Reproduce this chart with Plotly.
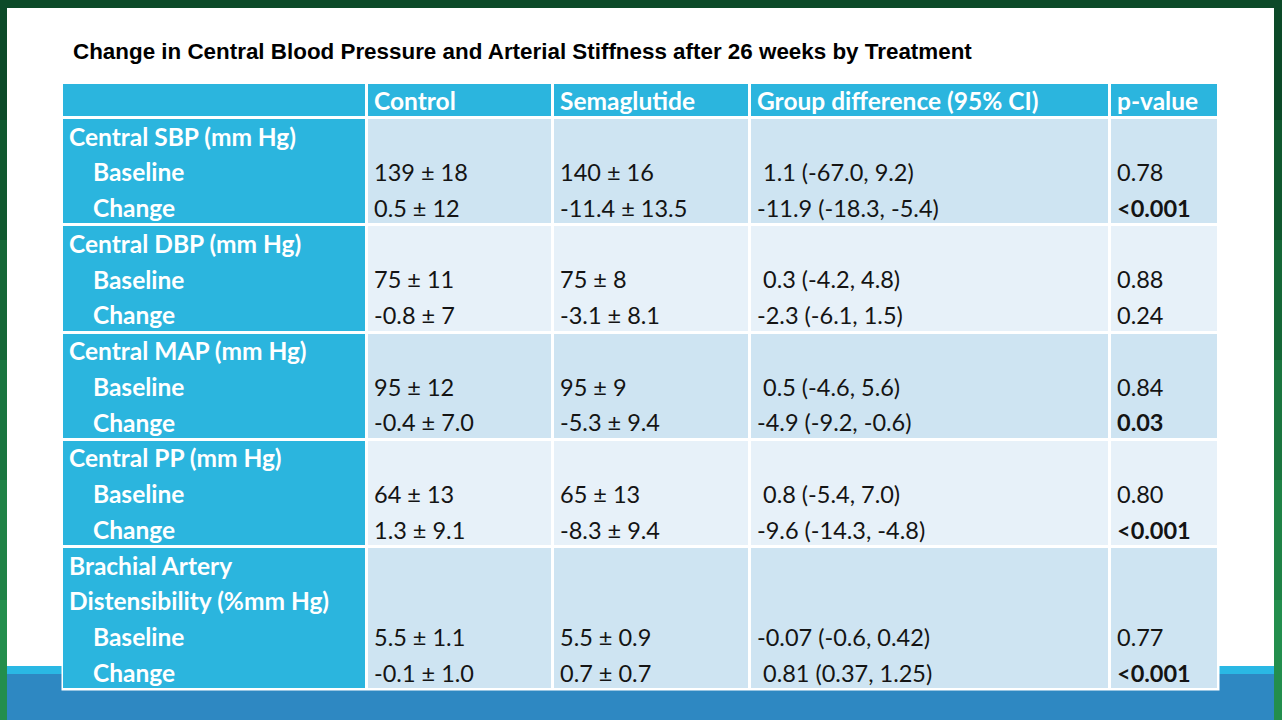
import plotly.graph_objects as go

W, H = 1282, 720

# ---- table content ----
columns = ["", "Control", "Semaglutide", "Group difference (95% CI)", "p-value"]
measures = [
    ["Central SBP (mm Hg)"],
    ["Central DBP (mm Hg)"],
    ["Central MAP (mm Hg)"],
    ["Central PP (mm Hg)"],
    ["Brachial Artery", "Distensibility (%mm Hg)"],
]
timepoints = ["Baseline", "Change"]

control_baseline = ["139 ± 18", "75 ± 11", "95 ± 12", "64 ± 13", "5.5 ± 1.1"]
control_change = ["0.5 ± 12", "-0.8 ± 7", "-0.4 ± 7.0", "1.3 ± 9.1", "-0.1 ± 1.0"]
sema_baseline = ["140 ± 16", "75 ± 8", "95 ± 9", "65 ± 13", "5.5 ± 0.9"]
sema_change = ["-11.4 ± 13.5", "-3.1 ± 8.1", "-5.3 ± 9.4", "-8.3 ± 9.4", "0.7 ± 0.7"]
diff_baseline = [" 1.1 (-67.0, 9.2)", " 0.3 (-4.2, 4.8)", " 0.5 (-4.6, 5.6)",
                 " 0.8 (-5.4, 7.0)", "-0.07 (-0.6, 0.42)"]
diff_change = ["-11.9 (-18.3, -5.4)", "-2.3 (-6.1, 1.5)", "-4.9 (-9.2, -0.6)",
               "-9.6 (-14.3, -4.8)", " 0.81 (0.37, 1.25)"]
p_baseline = ["0.78", "0.88", "0.84", "0.80", "0.77"]
p_change = ["<0.001", "0.24", "0.03", "<0.001", "<0.001"]
significant = ["<0.001", "0.03"]

title = "Change in Central Blood Pressure and Arterial Stiffness after 26 weeks by Treatment"

# ---- styling / geometry (pixels) ----
HEAD_BLUE = "#2bb5de"
CELL_DARK = "#cee4f2"
CELL_LIGHT = "#e7f1f9"
col_edges = [62, 367, 553, 750, 1110, 1219]
table_top, head_bottom, table_bottom = 83, 118, 690
gap = 3
pad = 7
indent = 31
text_dy = 3.5
font_fam = "Lato"
size_reg = 23.5
size_bold = 24.5
text_col = "#141414"

# row geometry derived from the number of text lines per measure
n_lines = [len(m) + len(timepoints) for m in measures]
line_h = (table_bottom - head_bottom) / sum(n_lines)
row_edges = [table_top, head_bottom]
for n in n_lines:
    row_edges.append(row_edges[-1] + n * line_h)

# cell colour codes: 0 = header blue, 1 = dark band, 2 = light band
z = [[0] * len(columns)]
for i in range(len(measures)):
    band = 1 if i % 2 == 0 else 2
    z.append([0] + [band] * (len(columns) - 1))

fig = go.Figure()

fig.add_trace(go.Heatmap(
    x=col_edges, y=row_edges, z=z,
    zmin=0, zmax=2,
    colorscale=[[0, HEAD_BLUE], [0.5, CELL_DARK], [1, CELL_LIGHT]],
    xgap=gap, ygap=gap, showscale=False, hoverinfo="skip",
))


def nb(s):
    # keep a leading space visible
    return "\u00a0" + s[1:] if s.startswith(" ") else s


def add_text(xs, ys, texts, color, size):
    fig.add_trace(go.Scatter(
        x=xs, y=[v + text_dy for v in ys], text=texts, mode="text",
        textposition="middle right",
        textfont=dict(family=font_fam, size=size, color=color),
        hoverinfo="skip", cliponaxis=False,
    ))


# header texts
head_y = (table_top + head_bottom) / 2
add_text([col_edges[j] + pad for j in range(1, len(columns))],
         [head_y] * (len(columns) - 1),
         ["<b>%s</b>" % c for c in columns[1:]], "white", size_bold)

# body texts
data_cols = [
    (control_baseline, control_change),
    (sema_baseline, sema_change),
    (diff_baseline, diff_change),
    (p_baseline, p_change),
]
lab_x, lab_y, lab_t = [], [], []
val_x, val_y, val_t = [], [], []
for i, label in enumerate(measures):
    top = row_edges[i + 1]
    centers = [top + (k + 0.5) * line_h for k in range(n_lines[i])]
    for k, s in enumerate(label):
        lab_x.append(col_edges[0] + pad)
        lab_y.append(centers[k])
        lab_t.append("<b>%s</b>" % s)
    for k, t in enumerate(timepoints):
        lab_x.append(col_edges[0] + indent)
        lab_y.append(centers[len(label) + k])
        lab_t.append("<b>%s</b>" % t)
        for j, (base, chg) in enumerate(data_cols):
            v = nb((base, chg)[k][i])
            if j == 3 and v in significant:
                v = "<b>%s</b>" % v
            val_x.append(col_edges[j + 1] + pad)
            val_y.append(centers[len(label) + k])
            val_t.append(v)

add_text(lab_x, lab_y, lab_t, "white", size_bold)
add_text(val_x, val_y, val_t, text_col, size_reg)

# slide frame: green edges, white page, blue footer band, white table backing
greens = ["#0c4a28", "#10582f", "#156737", "#1a753f", "#1f8246", "#238e4d"]
shapes = []
seg = H / len(greens)
for k, g in enumerate(greens):
    for x0, x1 in ((0, 7), (1274, W)):
        shapes.append(dict(type="rect", xref="x", yref="y", x0=x0, x1=x1,
                           y0=max(8, k * seg), y1=(k + 1) * seg,
                           fillcolor=g, line_width=0, layer="below"))
shapes += [
    dict(type="rect", xref="x", yref="y", x0=7, x1=1274, y0=8, y1=667,
         fillcolor="white", line_width=0, layer="below"),
    dict(type="rect", xref="x", yref="y", x0=7, x1=1274, y0=666, y1=674,
         fillcolor="#2ab8e4", line_width=0, layer="below"),
    dict(type="rect", xref="x", yref="y", x0=7, x1=1274, y0=674, y1=H,
         fillcolor="#2e88c2", line_width=0, layer="below"),
    dict(type="rect", xref="x", yref="y", x0=col_edges[0] - 0.5, x1=col_edges[-1] + 0.5,
         y0=table_top - 0.5, y1=table_bottom + 0.5, fillcolor="white", line_width=0, layer="below"),
]

fig.update_layout(
    width=W, height=H,
    margin=dict(l=0, r=0, t=0, b=0),
    paper_bgcolor="#0c4a28",
    plot_bgcolor="rgba(0,0,0,0)",
    shapes=shapes,
    xaxis=dict(range=[0, W], domain=[0, 1], visible=False, fixedrange=True),
    yaxis=dict(range=[H, 0], domain=[0, 1], visible=False, fixedrange=True),
    annotations=[dict(
        x=71, y=51.5, xref="x", yref="y", xanchor="left", yanchor="middle",
        text="<b>%s</b>" % title, showarrow=False,
        font=dict(family="Liberation Sans", size=22.4, color="#000000"),
    )],
    showlegend=False,
)

fig.write_html("out.html", config={"displayModeBar": False},
               post_script="document.body.style.margin='0';")
